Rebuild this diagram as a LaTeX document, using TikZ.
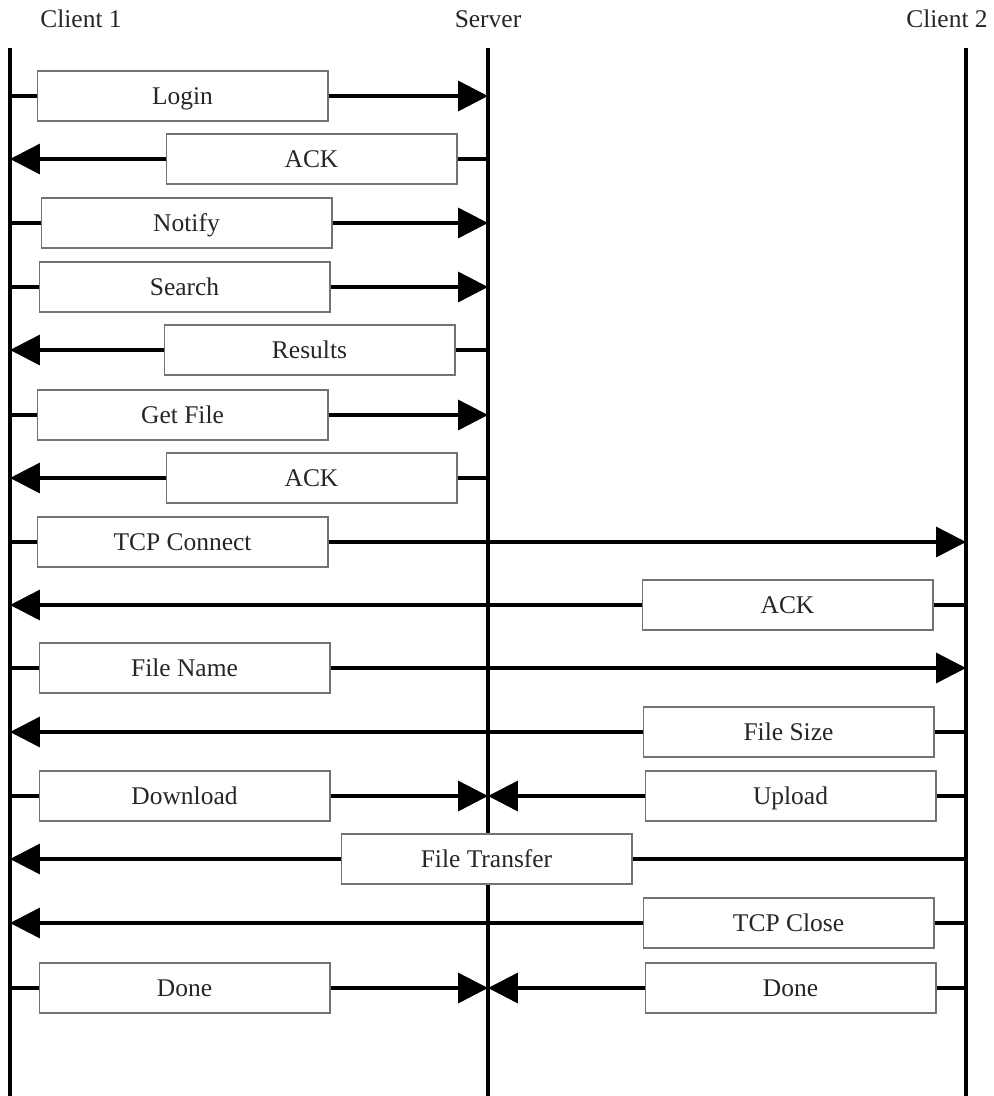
\documentclass[tikz,border=0pt]{standalone}
\usepackage{fontspec}
\setmainfont{Liberation Serif}
\usepackage{tikz}
\usetikzlibrary{arrows.meta}

\begin{document}
\begin{tikzpicture}[x=0.02cm, y=-0.02cm, font=\fontsize{14.5}{17}\selectfont,
                    text=black!85]
      \useasboundingbox (0,0) rectangle (994,1096);

      % lifelines
      \node[anchor = base] (c1lbl) at (81,27) {Client 1};
      \node[anchor = base] (svlbl) at (488,27) {Server};
      \node[anchor = base] (c2lbl) at (947,27) {Client 2};
      \coordinate (c1) at (10,48);
      \coordinate (sv) at (488,48);
      \coordinate (c2) at (966,48);
      \coordinate (c1end) at (10,1096);
      \coordinate (svend) at (488,1096);
      \coordinate (c2end) at (966,1096);
      \draw[line width = 2pt] (c1) -- (c1end);
      \draw[line width = 2pt] (sv) -- (svend);
      \draw[line width = 2pt] (c2) -- (c2end);

      \begin{scope}[every node/.style={rectangle, draw = black!55, fill = white,
                    line width = 0.6pt, inner sep = 0pt,
                    text height = 9.6pt, text depth = 0pt,
                    minimum width = 5.82cm, minimum height = 1cm}]
          \node (login) at (182.5,96) {Login};
          \node (ackA) at (311.5,159) {ACK};
          \node (notify) at (186.5,223) {Notify};
          \node (search) at (184.5,287) {Search};
          \node (results) at (309.5,350) {Results};
          \node (getfile) at (182.5,415) {Get File};
          \node (ackB) at (311.5,478) {ACK};
          \node (tcpcon) at (182.5,542) {TCP Connect};
          \node (ackC) at (787.5,605) {ACK};
          \node (fname) at (184.5,668) {File Name};
          \node (fsize) at (788.5,732) {File Size};
          \node (down) at (184.5,796) {Download};
          \node (up) at (790.5,796) {Upload};
          \node (xfer) at (486.5,859) {File Transfer};
          \node (tcpclose) at (788.5,923) {TCP Close};
          \node (doneA) at (184.5,988) {Done};
          \node (doneB) at (790.5,988) {Done};
      \end{scope}

      \begin{scope}[>={Triangle[length = 17pt, width = 17pt]},
                    line width = 2pt]
        \draw (c1 |- login) -- (login);
        \draw [->] (login) -- (sv |- login);
        \draw (sv |- ackA) -- (ackA);
        \draw [->] (ackA) -- (c1 |- ackA);
        \draw (c1 |- notify) -- (notify);
        \draw [->] (notify) -- (sv |- notify);
        \draw (c1 |- search) -- (search);
        \draw [->] (search) -- (sv |- search);
        \draw (sv |- results) -- (results);
        \draw [->] (results) -- (c1 |- results);
        \draw (c1 |- getfile) -- (getfile);
        \draw [->] (getfile) -- (sv |- getfile);
        \draw (sv |- ackB) -- (ackB);
        \draw [->] (ackB) -- (c1 |- ackB);
        \draw (c1 |- tcpcon) -- (tcpcon);
        \draw [->] (tcpcon) -- (c2 |- tcpcon);
        \draw (c2 |- ackC) -- (ackC);
        \draw [->] (ackC) -- (c1 |- ackC);
        \draw (c1 |- fname) -- (fname);
        \draw [->] (fname) -- (c2 |- fname);
        \draw (c2 |- fsize) -- (fsize);
        \draw [->] (fsize) -- (c1 |- fsize);
        \draw (c1 |- down) -- (down);
        \draw [->] (down) -- (sv |- down);
        \draw (c2 |- up) -- (up);
        \draw [->] (up) -- (sv |- up);
        \draw (c2 |- xfer) -- (xfer);
        \draw [->] (xfer) -- (c1 |- xfer);
        \draw (c2 |- tcpclose) -- (tcpclose);
        \draw [->] (tcpclose) -- (c1 |- tcpclose);
        \draw (c1 |- doneA) -- (doneA);
        \draw [->] (doneA) -- (sv |- doneA);
        \draw (c2 |- doneB) -- (doneB);
        \draw [->] (doneB) -- (sv |- doneB);
      \end{scope}
\end{tikzpicture}
\end{document}
